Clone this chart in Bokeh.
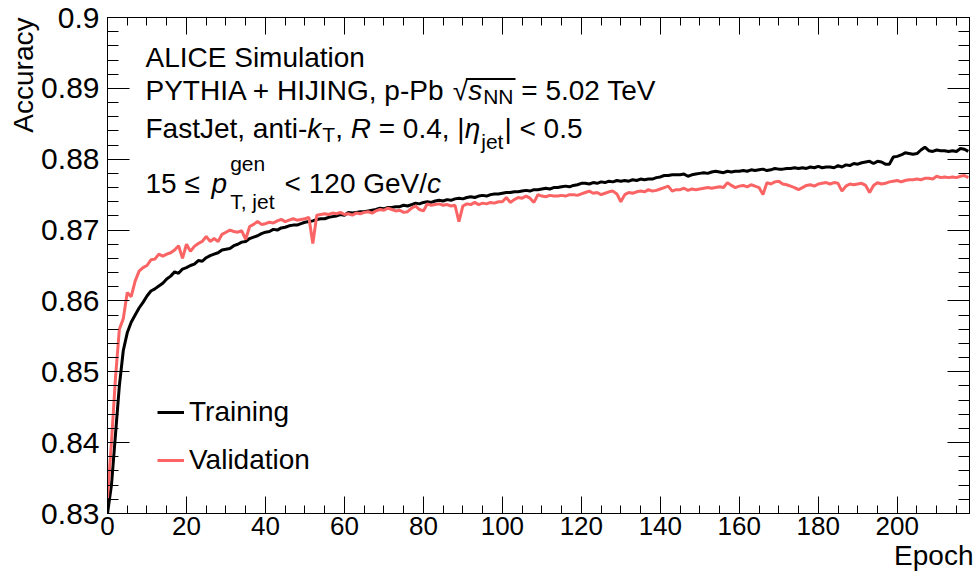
from bokeh.plotting import figure
from bokeh.models import (Label, BoxAnnotation, LinearAxis, FixedTicker, Range1d,
                          Legend, LegendItem, CustomJSTickFormatter, Title)
from bokeh.embed import file_html
from bokeh.resources import INLINE

# ---------------- data ----------------
train_acc = [
    0.8300, 0.8340, 0.8410, 0.8480, 0.8530, 0.8555, 0.8570, 0.8580, 0.8590, 0.8598,
    0.8607, 0.8614, 0.8617, 0.8621, 0.8625, 0.8631, 0.8635, 0.8641, 0.8639, 0.8645,
    0.8647, 0.8650, 0.8652, 0.8657, 0.8656, 0.8661, 0.8664, 0.8666, 0.8668, 0.8672,
    0.8673, 0.8674, 0.8678, 0.8680, 0.8683, 0.8684, 0.8688, 0.8690, 0.8692, 0.8695,
    0.8697, 0.8698, 0.8701, 0.8700, 0.8703, 0.8704, 0.8706, 0.8707, 0.8707, 0.8709,
    0.8711, 0.8712, 0.8713, 0.8715, 0.8716, 0.8716, 0.8718, 0.8719, 0.8720, 0.8722,
    0.8721, 0.8725, 0.8724, 0.8725, 0.8726, 0.8726, 0.8727, 0.8728, 0.8729, 0.8731,
    0.8730, 0.8732, 0.8732, 0.8733, 0.8733, 0.8735, 0.8734, 0.8736, 0.8738, 0.8737,
    0.8739, 0.8740, 0.8739, 0.8741, 0.8742, 0.8741, 0.8743, 0.8742, 0.8744, 0.8745,
    0.8744, 0.8746, 0.8747, 0.8746, 0.8748, 0.8749, 0.8748, 0.8750, 0.8751, 0.8751,
    0.8752, 0.8753, 0.8753, 0.8754, 0.8754, 0.8755, 0.8756, 0.8755, 0.8757, 0.8757,
    0.8758, 0.8759, 0.8758, 0.8760, 0.8760, 0.8761, 0.8762, 0.8761, 0.8763, 0.8764,
    0.8766, 0.8766, 0.8765, 0.8767, 0.8766, 0.8768, 0.8767, 0.8769, 0.8768, 0.8770,
    0.8769, 0.8770, 0.8769, 0.8771, 0.8770, 0.8772, 0.8771, 0.8772, 0.8772, 0.8774,
    0.8775, 0.8777, 0.8777, 0.8778, 0.8778, 0.8778, 0.8779, 0.8776, 0.8778, 0.8779,
    0.8780, 0.8781, 0.8780, 0.8782, 0.8783, 0.8782, 0.8781, 0.8783, 0.8782, 0.8783,
    0.8783, 0.8784, 0.8783, 0.8785, 0.8784, 0.8785, 0.8786, 0.8784, 0.8785, 0.8787,
    0.8786, 0.8786, 0.8787, 0.8787, 0.8788, 0.8787, 0.8788, 0.8787, 0.8789, 0.8788,
    0.8790, 0.8788, 0.8789, 0.8789, 0.8788, 0.8791, 0.8789, 0.8792, 0.8791, 0.8794,
    0.8793, 0.8795, 0.8796, 0.8797, 0.8794, 0.8797, 0.8796, 0.8793, 0.8793, 0.8803,
    0.8804, 0.8806, 0.8809, 0.8808, 0.8807, 0.8808, 0.8813, 0.8817, 0.8812, 0.8811,
    0.8813, 0.8812, 0.8812, 0.8811, 0.8812, 0.8811, 0.8815, 0.8814, 0.8811,
]

val_acc = [
    0.8322, 0.8400, 0.8490, 0.8560, 0.8575, 0.8612, 0.8606, 0.8628, 0.8642, 0.8647,
    0.8650, 0.8658, 0.8659, 0.8666, 0.8663, 0.8666, 0.8668, 0.8672, 0.8678, 0.8660,
    0.8680, 0.8670, 0.8677, 0.8681, 0.8684, 0.8691, 0.8684, 0.8688, 0.8684, 0.8694,
    0.8697, 0.8700, 0.8698, 0.8697, 0.8699, 0.8687, 0.8705, 0.8708, 0.8712, 0.8708,
    0.8709, 0.8711, 0.8710, 0.8713, 0.8715, 0.8712, 0.8714, 0.8716, 0.8714, 0.8715,
    0.8716, 0.8718, 0.8681, 0.8721, 0.8722, 0.8723, 0.8722, 0.8724, 0.8723, 0.8725,
    0.8722, 0.8723, 0.8721, 0.8724, 0.8723, 0.8725, 0.8726, 0.8724, 0.8727, 0.8729,
    0.8728, 0.8731, 0.8729, 0.8727, 0.8728, 0.8725, 0.8726, 0.8731, 0.8734, 0.8729,
    0.8727, 0.8737, 0.8735, 0.8736, 0.8737, 0.8735, 0.8736, 0.8734, 0.8735, 0.8712,
    0.8734, 0.8737, 0.8736, 0.8739, 0.8736, 0.8738, 0.8737, 0.8739, 0.8738, 0.8740,
    0.8740, 0.8746, 0.8739, 0.8743, 0.8746, 0.8745, 0.8748, 0.8745, 0.8739, 0.8750,
    0.8748, 0.8747, 0.8749, 0.8748, 0.8748, 0.8749, 0.8748, 0.8750, 0.8750, 0.8749,
    0.8751, 0.8753, 0.8755, 0.8752, 0.8753, 0.8750, 0.8752, 0.8754, 0.8755, 0.8751,
    0.8740, 0.8750, 0.8753, 0.8752, 0.8754, 0.8755, 0.8754, 0.8757, 0.8755, 0.8756,
    0.8758, 0.8760, 0.8762, 0.8755, 0.8757, 0.8757, 0.8759, 0.8756, 0.8758, 0.8757,
    0.8758, 0.8759, 0.8760, 0.8759, 0.8760, 0.8761, 0.8760, 0.8767, 0.8763, 0.8760,
    0.8762, 0.8763, 0.8761, 0.8764, 0.8762, 0.8760, 0.8750, 0.8767, 0.8765, 0.8768,
    0.8769, 0.8765, 0.8764, 0.8762, 0.8760, 0.8757, 0.8760, 0.8763, 0.8764, 0.8762,
    0.8765, 0.8766, 0.8767, 0.8765, 0.8767, 0.8766, 0.8755, 0.8762, 0.8765, 0.8764,
    0.8765, 0.8766, 0.8763, 0.8753, 0.8763, 0.8767, 0.8765, 0.8766, 0.8768, 0.8769,
    0.8770, 0.8768, 0.8770, 0.8771, 0.8771, 0.8772, 0.8771, 0.8773, 0.8773, 0.8772,
    0.8776, 0.8774, 0.8775, 0.8774, 0.8775, 0.8774, 0.8776, 0.8777, 0.8774,
]

epochs = list(range(len(train_acc)))

x_ticks = [0, 20, 40, 60, 80, 100, 120, 140, 160, 180, 200]
y_ticks = [0.83, 0.84, 0.85, 0.86, 0.87, 0.88, 0.89, 0.9]
y_tick_labels = ["0.83", "0.84", "0.85", "0.86", "0.87", "0.88", "0.89", "0.9"]
series_names = ["Training", "Validation"]
series_colors = ["black", "#FA6464"]
x_title = "Epoch"
y_title = "Accuracy"

# ---------------- layout ----------------
W, H = 976, 576
FL, FR, FT, FB = 107, 969, 17, 513   # frame edges in canvas pixels
FONT = "Liberation Sans"
DY = -10   # empirical baseline correction for Label placement

x_minor = [v for v in range(0, 220, 5) if v % 20 != 0]
y_minor = [round(0.83 + 0.002 * i, 3) for i in range(36)]

p = figure(width=W, height=H, output_backend="svg", toolbar_location=None,
           x_range=Range1d(0, 218.3), y_range=Range1d(0.83, 0.9),
           min_border_left=FL, min_border_right=W - FR,
           min_border_top=FT, min_border_bottom=H - FB,
           background_fill_color="white", border_fill_color="white")
p.grid.visible = False
p.outline_line_color = "black"
p.outline_line_width = 1

xt = FixedTicker(ticks=x_ticks, minor_ticks=x_minor)
yt = FixedTicker(ticks=y_ticks, minor_ticks=y_minor)

def style_axis(ax, major_in, minor_in):
    ax.axis_line_color = "black"
    ax.major_tick_line_color = "black"
    ax.minor_tick_line_color = "black"
    ax.major_tick_in = major_in
    ax.major_tick_out = 0
    ax.minor_tick_in = minor_in
    ax.minor_tick_out = 0

xa = p.xaxis[0]
xa.ticker = xt
style_axis(xa, 17, 8)
xa.major_label_text_font = FONT
xa.major_label_text_font_size = "26px"
xa.major_label_text_color = "black"
xa.major_label_standoff = 3

ya = p.yaxis[0]
ya.ticker = yt
style_axis(ya, 22, 11)
ya.major_label_text_font = FONT
ya.major_label_text_font_size = "30px"
ya.major_label_text_color = "black"
ya.major_label_standoff = 8
ya.major_label_overrides = {v: s for v, s in zip(y_ticks, y_tick_labels)}

blank = CustomJSTickFormatter(code="return ''")
top_ax = LinearAxis(ticker=xt, formatter=blank, major_label_standoff=0)
style_axis(top_ax, 17, 8)
right_ax = LinearAxis(ticker=yt, formatter=blank, major_label_standoff=0)
style_axis(right_ax, 22, 11)
p.add_layout(top_ax, "above")
p.add_layout(right_ax, "right")

# axis titles, ROOT style (aligned to the axis ends)
p.add_layout(Title(text=x_title, align="right", text_font=FONT, text_font_size="28px",
                   text_font_style="normal", text_color="black", standoff=0,
                   offset=-4), "below")
p.add_layout(Title(text=y_title, align="right", text_font=FONT, text_font_size="28px",
                   text_font_style="normal", text_color="black", standoff=0), "left")

# ---------------- curves ----------------
r_train = p.line(epochs, train_acc, color=series_colors[0], line_width=3)
r_val = p.line(epochs, val_acc, color=series_colors[1], line_width=3)

legend = Legend(items=[LegendItem(label=series_names[0], renderers=[r_train]),
                       LegendItem(label=series_names[1], renderers=[r_val])],
                location=(50, 37), border_line_color=None, background_fill_alpha=0,
                padding=0, margin=0, glyph_width=27, glyph_height=28,
                label_height=28, label_standoff=5, spacing=16,
                label_text_font=FONT, label_text_font_size="28px",
                label_text_color="black")
p.add_layout(legend, "center")

# ---------------- texts ----------------
AW = {' ': 278, '+': 584, ',': 278, '-': 333, '.': 278, '/': 278, '<': 584, '=': 584,
      '|': 260, '≤': 549, 'η': 556, '√': 549,
      'A': 667, 'C': 722, 'E': 667, 'F': 611, 'G': 778, 'H': 722, 'I': 278, 'J': 500,
      'L': 556, 'N': 722, 'P': 667, 'R': 722, 'S': 667, 'T': 611, 'V': 667, 'Y': 667,
      'a': 556, 'b': 556, 'c': 500, 'e': 556, 'g': 556, 'h': 556, 'i': 222, 'j': 222,
      'k': 500, 'l': 222, 'm': 833, 'n': 556, 'o': 556, 'p': 556, 'r': 333, 's': 500,
      't': 278, 'u': 556, 'y': 500}
for d in "0123456789":
    AW[d] = 556

def tw(s, size):
    return sum(AW.get(c, 556) for c in s) * size / 1000.0

def put(s, x, ybase, size, italic=False):
    core = s.strip(" ")
    lead = len(s) - len(s.lstrip(" "))
    trail = len(s) - len(s.rstrip(" "))
    xs = x + lead * tw(" ", size)
    p.add_layout(Label(x=xs - FL, y=FB - (ybase + DY), x_units="screen", y_units="screen",
                       text=core, text_font=FONT, text_font_size=f"{size}px",
                       text_font_style="italic" if italic else "normal",
                       text_color="black", text_baseline="alphabetic",
                       text_align="left"))
    return xs + tw(core, size) + trail * tw(" ", size)

def run(pieces, x, ybase):
    for s, size, it, dy, gap in pieces:
        x = put(s, x, ybase + dy, size, it) + gap
    return x

S, SS = 28, 21
X0 = 145

put("ALICE Simulation", X0, 67, S)

# line 2 with radical
x = put("PYTHIA + HIJING, p-Pb ", X0, 100, S)
x = put("√", x, 100, S)
rad_start = x - 2
x = put("s", x, 100, S, italic=True) + 1
x = put("NN", x, 106, SS)
rad_end = x + 2
p.add_layout(BoxAnnotation(left=rad_start - FL, right=rad_end - FL,
                           top=FB - 77.5, bottom=FB - 79.5,
                           left_units="screen", right_units="screen",
                           top_units="screen", bottom_units="screen",
                           fill_color="black", fill_alpha=1, line_alpha=0))
put(" = 5.02 TeV", x, 100, S)

# line 3
run([("FastJet, anti-", S, False, 0, 0),
     ("k", S, True, 0, 1),
     ("T", SS, False, 6, 0),
     (", ", S, False, 0, 0),
     ("R", S, True, 0, 0),
     (" = 0.4, |", S, False, 0, 0),
     ("η", S, True, 0, 1),
     ("jet", SS, False, 13, 1),
     ("| < 0.5", S, False, 0, 0)], X0, 138)

# line 4
x = put("15 ≤ ", X0, 193, S) + 4
x = put("p", x, 193, S, italic=True) + 3
put("gen", x, 173, SS)
x = put("T, jet", x, 211, SS)
x = put(" < 120 GeV/", x, 193, S)
put("c", x, 193, S, italic=True)

open("out.html", "w").write(file_html(p, INLINE))
